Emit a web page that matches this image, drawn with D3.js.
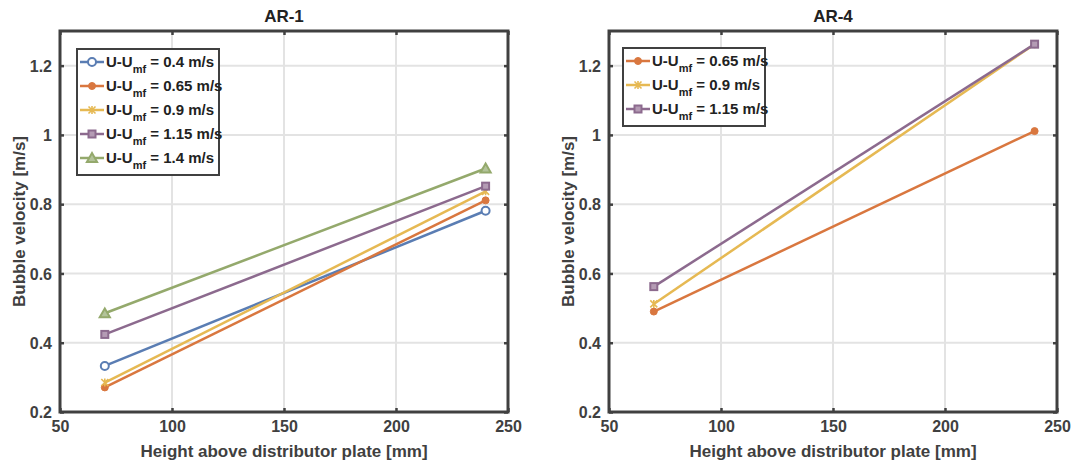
<!DOCTYPE html>
<html>
<head>
<meta charset="utf-8">
<script src="https://cdn.jsdelivr.net/npm/d3@7"></script>
<style>
  body { margin: 0; background: #fff; }
  text { font-family: "Liberation Sans", Arial, sans-serif; font-weight: bold; }
</style>
</head>
<body>
<div id="chart"></div>
<script>
    // x positions (mm) where velocity was measured
    let heights = [70, 240];

    let ar1Speeds = ["0.4", "0.65", "0.9", "1.15", "1.4"];
    let ar1Values = [
        [0.333, 0.781],
        [0.271, 0.811],
        [0.285, 0.837],
        [0.424, 0.852],
        [0.485, 0.903]
    ];

    let ar4Speeds = ["0.65", "0.9", "1.15"];
    let ar4Values = [
        [0.49, 1.011],
        [0.512, 1.262],
        [0.562, 1.262]
    ];

    let xTicks = [50, 100, 150, 200, 250];
    let yTicks = [0.2, 0.4, 0.6, 0.8, 1, 1.2];

    let styles = {
        "0.4":  {color: "#5a7db3", marker: "circleOpen"},
        "0.65": {color: "#d9773f", marker: "dot"},
        "0.9":  {color: "#e6b953", marker: "star"},
        "1.15": {color: "#8c6a8e", marker: "square"},
        "1.4":  {color: "#94a96c", marker: "triangle"}
    };

    let svg = d3.select("#chart")
      .append("svg")
        .attr("width", 1072)
        .attr("height", 460);

    function drawMarker(g, type, color) {
        if (type == "circleOpen") {
            g.append("circle").attr("r", 4).attr("fill", "#fff")
                .attr("stroke", color).attr("stroke-width", 2);
        } else if (type == "dot") {
            g.append("circle").attr("r", 3.5).attr("fill", color)
                .attr("stroke", color).attr("stroke-width", 1);
        } else if (type == "star") {
            g.append("path").attr("d", "M-3.5,-3.5L3.5,3.5M-3.5,3.5L3.5,-3.5M0,-4L0,4")
                .attr("stroke", color).attr("stroke-width", 1.6).attr("fill", "none");
        } else if (type == "square") {
            g.append("rect").attr("x", -3.5).attr("y", -3.5).attr("width", 7).attr("height", 7)
                .attr("fill", "#b49bb4").attr("stroke", color).attr("stroke-width", 2);
        } else if (type == "triangle") {
            g.append("path").attr("d", d3.symbol(d3.symbolTriangle, 45)())
                .attr("transform", "translate(0,1)")
                .attr("fill", "#b3c39a").attr("stroke", color).attr("stroke-width", 2);
        }
    }

    function panel(left, title, speeds, values, legend) {
        let top = 31, width = 448, height = 381;
        let g = svg.append("g").attr("transform", "translate(" + left + "," + top + ")");

        let x = d3.scaleLinear().domain([50, 250]).range([0, width]);
        let y = d3.scaleLinear().domain([0.2, 1.3]).range([height, 0]);

        // grid
        g.selectAll(".vgrid").data(xTicks.slice(1, -1)).enter().append("line")
            .attr("x1", d => x(d)).attr("x2", d => x(d))
            .attr("y1", 0).attr("y2", height)
            .attr("stroke", "#e3e3e3").attr("stroke-width", 2);
        g.selectAll(".hgrid").data(yTicks.slice(1)).enter().append("line")
            .attr("x1", 0).attr("x2", width)
            .attr("y1", d => y(d)).attr("y2", d => y(d))
            .attr("stroke", "#e3e3e3").attr("stroke-width", 2);

        // lines + markers
        speeds.forEach(function(s, i) {
            let st = styles[s];
            let pts = heights.map((h, j) => [h, values[i][j]]);
            g.append("path")
                .datum(pts)
                .attr("d", d3.line().x(d => x(d[0])).y(d => y(d[1])))
                .attr("fill", "none")
                .attr("stroke", st.color)
                .attr("stroke-width", 2.5);
            pts.forEach(function(p) {
                let m = g.append("g").attr("transform", "translate(" + x(p[0]) + "," + y(p[1]) + ")");
                drawMarker(m, st.marker, st.color);
            });
        });

        // axes with inward ticks
        let axisColor = "#404040";
        let bottom = g.append("g").attr("transform", "translate(0," + height + ")")
            .call(d3.axisBottom(x).tickValues(xTicks).tickSize(-4).tickPadding(9));
        let leftAx = g.append("g")
            .call(d3.axisLeft(y).tickValues(yTicks).tickFormat(d => d3.format("")(d)).tickSize(-4).tickPadding(8));
        let topAx = g.append("g")
            .call(d3.axisTop(x).tickValues(xTicks).tickSize(-4).tickFormat(""));
        let rightAx = g.append("g").attr("transform", "translate(" + width + ",0)")
            .call(d3.axisRight(y).tickValues(yTicks).tickSize(-4).tickFormat(""));
        [bottom, leftAx, topAx, rightAx].forEach(function(a) {
            a.select(".domain").remove();
            a.selectAll("line").attr("stroke", axisColor).attr("stroke-width", 2.5);
            a.selectAll("text").attr("fill", axisColor).style("font-size", "16px");
        });
        leftAx.selectAll("text").attr("dy", "0.35em");

        g.append("rect")
            .attr("width", width).attr("height", height)
            .attr("fill", "none").attr("stroke", axisColor).attr("stroke-width", 3);

        // title & labels
        g.append("text").text(title)
            .attr("x", width / 2).attr("y", -9)
            .attr("text-anchor", "middle")
            .style("font-size", "17px").attr("fill", "#222");
        g.append("text").text("Height above distributor plate [mm]")
            .attr("x", width / 2).attr("y", height + 45)
            .attr("text-anchor", "middle")
            .style("font-size", "17px").attr("fill", axisColor);
        g.append("text").text("Bubble velocity [m/s]")
            .attr("transform", "translate(-35," + (height / 2) + ") rotate(-90)")
            .attr("text-anchor", "middle")
            .style("font-size", "17px").attr("fill", axisColor);

        // legend
        let lg = g.append("g").attr("transform", "translate(" + legend.x + "," + legend.y + ")");
        let rowH = 24;
        lg.append("rect")
            .attr("width", legend.w).attr("height", speeds.length * rowH + 6)
            .attr("fill", "#fff").attr("stroke", axisColor).attr("stroke-width", 2);
        speeds.forEach(function(s, i) {
            let st = styles[s];
            let row = lg.append("g").attr("transform", "translate(0," + (13 + i * rowH) + ")");
            row.append("line").attr("x1", 3).attr("x2", 27)
                .attr("stroke", st.color).attr("stroke-width", 2.5);
            let m = row.append("g").attr("transform", "translate(15,0)");
            drawMarker(m, st.marker, st.color);
            let t = row.append("text").attr("x", 29).attr("y", 5)
                .style("font-size", "15px").attr("fill", "#222");
            t.append("tspan").text("U-U");
            t.append("tspan").text("mf").attr("dy", 6).style("font-size", "11px");
            t.append("tspan").text(" = " + s + " m/s").attr("dy", -6);
        });
    }

    panel(60, "AR-1", ar1Speeds, ar1Values, {x: 17, y: 18, w: 142});
    panel(609, "AR-4", ar4Speeds, ar4Values, {x: 14, y: 17, w: 142});
</script>
</body>
</html>
